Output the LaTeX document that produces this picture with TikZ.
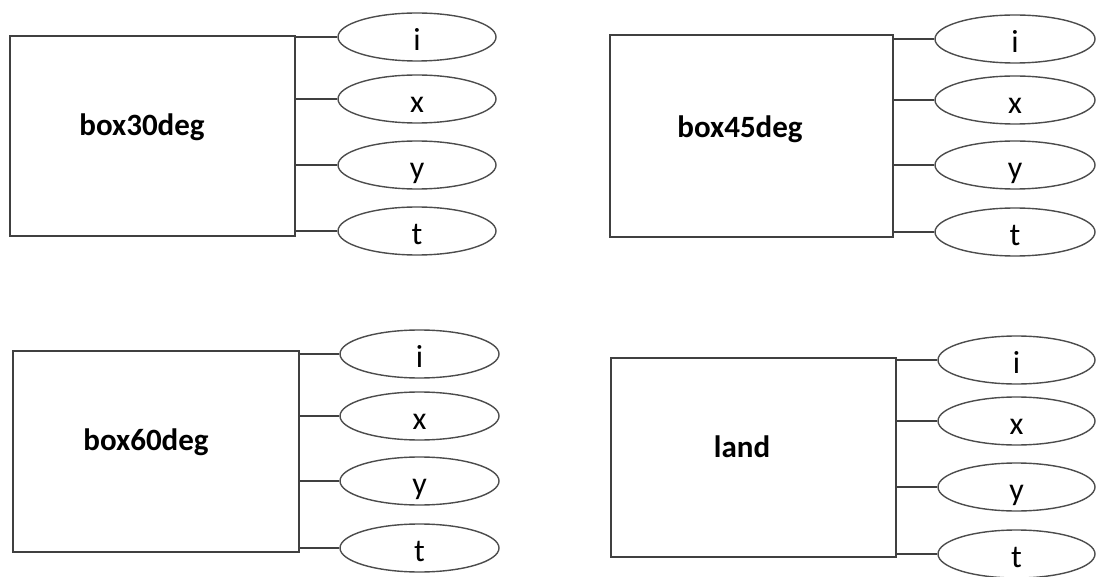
\documentclass[tikz,border=0pt]{standalone}
\usepackage{fontspec}
\setmainfont{Carlito}
\usetikzlibrary{shapes.geometric}
\tikzset{
  boxn/.style={draw=black!75, line width=1.6pt, rectangle, inner sep=0pt},
  ell/.style={draw=black!70, line width=1.4pt, ellipse, inner sep=0pt, minimum height=48pt,
    text height=27pt, text depth=0pt, font=\fontsize{32}{34}\selectfont},
  blabel/.style={inner sep=0pt, font=\bfseries\fontsize{31}{33}\selectfont},
  conn/.style={draw=black!75, line width=1.6pt}
}
\begin{document}
\begin{tikzpicture}[x=1pt,y=-1pt]
\useasboundingbox (0,0) rectangle (1097,577);
% top-left
\node[boxn, minimum width=285pt, minimum height=200pt] (b1) at (152.5,136) {};
\node[blabel] (l1) at (142,127) {box30deg};
\node[ell, minimum width=158pt] (b1i) at (417,37) {i};
\node[ell, minimum width=158pt] (b1x) at (417,99) {x};
\node[ell, minimum width=158pt] (b1y) at (417,165) {y};
\node[ell, minimum width=158pt] (b1t) at (417,231) {t};
% top-right
\node[boxn, minimum width=283pt, minimum height=202pt] (b2) at (751.5,136) {};
\node[blabel] (l2) at (740,129) {box45deg};
\node[ell, minimum width=160pt] (b2i) at (1015,39) {i};
\node[ell, minimum width=160pt] (b2x) at (1015,100) {x};
\node[ell, minimum width=160pt] (b2y) at (1015,165) {y};
\node[ell, minimum width=160pt] (b2t) at (1015,232) {t};
% bottom-left
\node[boxn, minimum width=286pt, minimum height=201pt] (b3) at (156,451.5) {};
\node[blabel] (l3) at (146,442) {box60deg};
\node[ell, minimum width=159pt] (b3i) at (419.5,354) {i};
\node[ell, minimum width=159pt] (b3x) at (419.5,416) {x};
\node[ell, minimum width=159pt] (b3y) at (419.5,481) {y};
\node[ell, minimum width=159pt] (b3t) at (419.5,548) {t};
% bottom-right
\node[boxn, minimum width=285pt, minimum height=199pt] (b4) at (753.5,457.5) {};
\node[blabel] (l4) at (742,447) {land};
\node[ell, minimum width=157pt] (b4i) at (1016.5,360) {i};
\node[ell, minimum width=157pt] (b4x) at (1016.5,421) {x};
\node[ell, minimum width=157pt] (b4y) at (1016.5,487) {y};
\node[ell, minimum width=157pt] (b4t) at (1016.5,554) {t};
% connectors
\foreach \b in {b1,b2,b3,b4}{
  \foreach \e in {i,x,y,t}{
    \draw[conn] (\b.east |- \b\e.west) -- (\b\e.west);
  }
}
\end{tikzpicture}
\end{document}
